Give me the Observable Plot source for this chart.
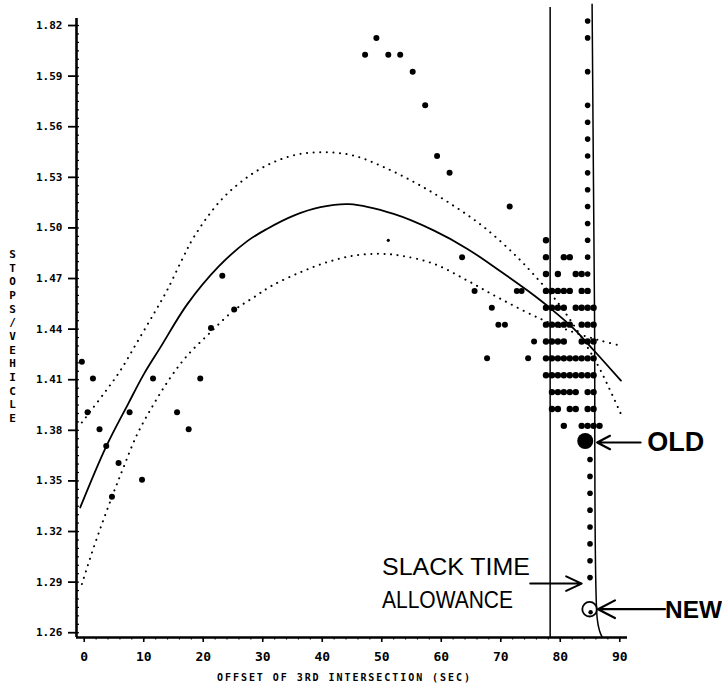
<!DOCTYPE html>
<html><head><meta charset="utf-8">
<script src="https://cdn.jsdelivr.net/npm/d3@7"></script>
<script src="https://cdn.jsdelivr.net/npm/@observablehq/plot@0.6"></script>
<style>html,body{margin:0;padding:0;background:#fff}</style>
</head><body><div id="chart"></div>
<script>
// ---- tick labels ----
const yTicks = [1.26, 1.29, 1.32, 1.35, 1.38, 1.41, 1.44, 1.47, 1.50, 1.53, 1.56, 1.59, 1.62];
const yTickLabels = ["1.26", "1.29", "1.32", "1.35", "1.38", "1.41", "1.44", "1.47", "1.50", "1.53", "1.56", "1.59", "1.82"];
const xTicks = [0, 10, 20, 30, 40, 50, 60, 70, 80, 90];
const xTickLabels = ["0", "10", "20", "30", "40", "50", "60", "70", "80", "90"];
const xTitle = "OFFSET OF 3RD INTERSECTION (SEC)";
const yTitle = "STOPS/VEHICLE";

// ---- scattered observations (offset sec, stops/vehicle) ----
const scatterX = [-0.4, 1.46, 0.56, 2.57, 3.70, 5.77, 4.66, 9.71, 7.62, 11.56, 15.6, 17.55, 19.5, 21.3, 23.2, 25.2,
  47.2, 49.1, 51.1, 53.1, 55.2, 57.3, 59.3, 61.4, 71.5, 63.5, 65.6, 68.5, 69.6, 70.7, 72.7, 73.5, 75.6, 67.7, 74.6];
const scatterY = [1.418, 1.408, 1.388, 1.378, 1.368, 1.358, 1.338, 1.348, 1.388, 1.408, 1.388, 1.378, 1.408, 1.438, 1.469, 1.449,
  1.600, 1.610, 1.600, 1.600, 1.590, 1.570, 1.540, 1.530, 1.510, 1.480, 1.460, 1.450, 1.440, 1.440, 1.460, 1.460, 1.430, 1.420, 1.420];
const faintX = [51.1];
const faintY = [1.490];

// ---- dense block of observations inside the slack window ----
const gridCols = [77.6, 78.6, 79.6, 80.6, 81.6, 82.6, 83.6, 84.6, 85.6, 86.6];
const gridRowY = [1.49, 1.48, 1.47, 1.46, 1.45, 1.44, 1.43, 1.42, 1.41, 1.40, 1.39, 1.38];
const gridRowCols = [
  [0], [0, 3, 4], [0, 2, 5, 6], [0, 1, 2, 3, 4, 6, 7], [0, 1, 2, 3, 5, 6, 7, 8], [0, 1, 2, 3, 4, 6, 7, 8],
  [0, 1, 2, 3, 6, 7, 8], [0, 1, 2, 3, 4, 5, 6, 7, 8], [0, 1, 2, 3, 4, 5, 6, 7, 8], [1, 2, 3, 4, 5, 7, 8],
  [1, 2, 4, 5, 7, 8], [3, 6, 7, 8, 9]
];
// tall column
const columnUpperX = 84.6;
const columnUpperY = [1.62, 1.61, 1.59, 1.57, 1.56, 1.55, 1.54, 1.53, 1.52, 1.51, 1.50, 1.49, 1.48, 1.47];
const columnLowerX = 85.0;
const columnLowerY = [1.36, 1.35, 1.34, 1.33, 1.32, 1.31, 1.30, 1.29];
const oldPoint = {x: 84.2, y: 1.371};
const newPoint = {x: 85.1, y: 1.2695};
const slackPoint = {x: 85.0, y: 1.29};

// ---- fitted curve and dotted bands ----
const fitX = [-0.67, 3.7, 7.45, 10, 12.8, 17.3, 22.6, 27.4, 30.7, 35.2, 39.7, 44.5, 52.0, 58.8, 64.4, 70.0, 74.5, 78.4, 82.3, 85.7, 90.2];
const fitY = [1.3316, 1.3678, 1.3935, 1.4105, 1.4265, 1.452, 1.4745, 1.4895, 1.4967, 1.5046, 1.5096, 1.5114, 1.5056, 1.4957, 1.4849, 1.4715, 1.4602, 1.4495, 1.4375, 1.4245, 1.4068];
const upperX = [-0.39, 3.25, 6.06, 8.87, 11.66, 13.9, 16.5, 18.4, 22.9, 27.4, 31.8, 36.3, 40.8, 45.3, 50.4, 56.0, 61.6, 67.2, 72.8, 76.7, 79.5, 82.3, 84.6, 86.8, 90.2];
const upperY = [1.382, 1.3989, 1.4127, 1.4295, 1.4463, 1.4602, 1.479, 1.4918, 1.5135, 1.5274, 1.5363, 1.5412, 1.5422, 1.5402, 1.5333, 1.5234, 1.5116, 1.4977, 1.4799, 1.4651, 1.4535, 1.4395, 1.4265, 1.4127, 1.387];
const lowerX = [-0.39, 1.5, 3.3, 5.0, 6.5, 8.9, 11.7, 14.5, 17.3, 21.2, 25.1, 28.5, 31.5, 36.3, 40.8, 45.3, 49.5, 53.2, 58.8, 64.4, 70.0, 76.7, 82.3, 86.8, 90.2];
const lowerY = [1.2862, 1.307, 1.325, 1.341, 1.3545, 1.375, 1.393, 1.4087, 1.4216, 1.4354, 1.4483, 1.4562, 1.463, 1.471, 1.477, 1.4809, 1.482, 1.4809, 1.476, 1.4661, 1.4552, 1.4434, 1.4354, 1.4305, 1.4275];

// slack window boundaries
const slackLeftX = 78.3;
const slackRightX = [85.35, 85.75, 86.2, 86.6, 87.0];
const slackRightY = [1.630, 1.45, 1.266, 1.2585, 1.2550];

// ---- build tables ----
const scatter = scatterX.map((x, i) => ({x, y: scatterY[i]}));
const faint = faintX.map((x, i) => ({x, y: faintY[i]}));
const grid = gridRowY.flatMap((y, r) => gridRowCols[r].map(k => ({x: gridCols[k], y})));
const column = columnUpperY.map(y => ({x: columnUpperX, y})).concat(columnLowerY.map(y => ({x: columnLowerX, y})));
const fit = fitX.map((x, i) => ({x, y: fitY[i]}));
const upper = upperX.map((x, i) => ({x, y: upperY[i]}));
const lower = lowerX.map((x, i) => ({x, y: lowerY[i]}));
const rightBound = slackRightX.map((x, i) => ({x, y: slackRightY[i]}));

const X0 = -1.3, X1 = 91.3, Y0 = 1.2545, Y1 = 1.6298;
const mono = "DejaVu Sans Mono";
const sans = "Liberation Sans";
const yMinor = d3.range(0, 73).map(i => +(1.26 + i * 0.005).toFixed(3));
const xMinor = d3.range(0, 46).map(i => i * 2);

const svg = Plot.plot({
  width: 722, height: 688,
  marginLeft: 76, marginRight: 95, marginTop: 4, marginBottom: 51,
  x: {domain: [X0, X1]},
  y: {domain: [Y0, Y1]},
  style: {fontFamily: mono, fontSize: "11px", color: "black", background: "white"},
  marks: [
    Plot.line(upper, {x: "x", y: "y", curve: "catmull-rom", stroke: "black", strokeWidth: 2, strokeDasharray: "0.1 6.5", strokeLinecap: "round"}),
    Plot.line(lower, {x: "x", y: "y", curve: "catmull-rom", stroke: "black", strokeWidth: 2, strokeDasharray: "0.1 6.5", strokeLinecap: "round"}),
    Plot.line(fit, {x: "x", y: "y", curve: "catmull-rom", stroke: "black", strokeWidth: 1.8}),
    Plot.ruleX([slackLeftX], {y1: Y0, y2: 1.628, stroke: "black", strokeWidth: 1.5}),
    Plot.line(rightBound, {x: "x", y: "y", curve: "catmull-rom", stroke: "black", strokeWidth: 1.5}),
    Plot.dot(scatter, {x: "x", y: "y", r: 3, fill: "black"}),
    Plot.dot(faint, {x: "x", y: "y", r: 1.6, fill: "black"}),
    Plot.dot(grid, {x: "x", y: "y", r: 3.2, fill: "black"}),
    Plot.dot(column, {x: "x", y: "y", r: 2.8, fill: "black"}),
    Plot.dot([oldPoint], {x: "x", y: "y", r: 8, fill: "black"}),
    Plot.dot([newPoint], {x: "x", y: "y", r: 2.2, fill: "black"}),
    Plot.dot([newPoint], {x: "x", y: "y", r: 7.3, dx: -1, dy: -3, fill: "none", stroke: "black", strokeWidth: 1.8}),
    // annotations
    Plot.arrow([oldPoint], {x1: d => d.x + 9.3, x2: d => d.x + 2.0, y1: "y", y2: "y", dy: 1.5, stroke: "black", strokeWidth: 2.2, headLength: 13, headAngle: 55}),
    Plot.text([oldPoint], {x: "x", y: "y", text: () => "OLD", dx: 62, dy: 1.5, textAnchor: "start", fontFamily: sans, fontWeight: "bold", fontSize: 27}),
    Plot.arrow([newPoint], {x1: d => d.x + 12.5, x2: d => d.x + 1.25, y1: "y", y2: "y", dy: -3, stroke: "black", strokeWidth: 2.2, headLength: 13, headAngle: 55}),
    Plot.text([newPoint], {x: "x", y: "y", text: () => "NEW", dx: 74.5, dy: -1.5, textAnchor: "start", fontFamily: sans, fontWeight: "bold", fontSize: 24}),
    Plot.arrow([slackPoint], {x1: d => d.x - 10.05, x2: d => d.x - 1.4, y1: "y", y2: "y", dy: 6, stroke: "black", strokeWidth: 2, headLength: 13, headAngle: 50}),
    Plot.text([slackPoint], {x: "x", y: "y", text: () => "SLACK TIME", dx: -208, dy: -10.4, textAnchor: "start", fontFamily: sans, fontSize: 23}),
    Plot.text([slackPoint], {x: "x", y: "y", text: () => "ALLOWANCE", dx: -208, dy: 22.9, textAnchor: "start", fontFamily: sans, fontSize: 23}),
    // axes
    Plot.ruleY([Y0], {x1: X0, x2: X1, stroke: "black", strokeWidth: 2.6}),
    Plot.ruleX([X0], {y1: Y0, y2: 1.6215, stroke: "black", strokeWidth: 2.6}),
    Plot.axisY({ticks: yTicks, tickFormat: d => yTickLabels[yTicks.indexOf(d)], tickSize: 8, tickPadding: 6, dy: 4.5,
      fontSize: 11, fontWeight: "bold", fontFamily: mono, strokeWidth: 1.8, label: null}),
    Plot.axisY({ticks: yMinor, tickFormat: () => "", tickSize: 3, dx: 3, dy: 4.5, strokeWidth: 1.2, label: null}),
    Plot.axisX({ticks: xTicks, tickFormat: d => xTickLabels[xTicks.indexOf(d)], tickSize: 5, tickPadding: 9,
      fontSize: 13, fontWeight: "bold", fontFamily: mono, strokeWidth: 1.6, label: null}),
    Plot.axisX({ticks: xMinor, tickFormat: () => "", tickSize: 2.5, strokeWidth: 1.1, label: null}),
    Plot.text([xTitle], {frameAnchor: "bottom", dy: 43, dx: -8.5, fontFamily: mono, fontWeight: "bold", fontSize: 10}),
    Plot.text([yTitle.split("").join("\n")], {frameAnchor: "left", dx: -64, dy: 14.5, lineHeight: 1.243,
      fontFamily: mono, fontWeight: "bold", fontSize: 11, textAnchor: "middle"})
  ]
});

const widths = {"SLACK TIME": 148, "ALLOWANCE": 131, "OLD": 57, "NEW": 57};
widths[xTitle] = 253;
d3.select(svg).selectAll("text").each(function() {
  const t = this.textContent;
  if (widths[t] && this.childElementCount === 0) {
    this.setAttribute("textLength", widths[t]);
    this.setAttribute("lengthAdjust", t === xTitle ? "spacing" : "spacingAndGlyphs");
  }
});
document.getElementById("chart").appendChild(svg);
</script></body></html>
